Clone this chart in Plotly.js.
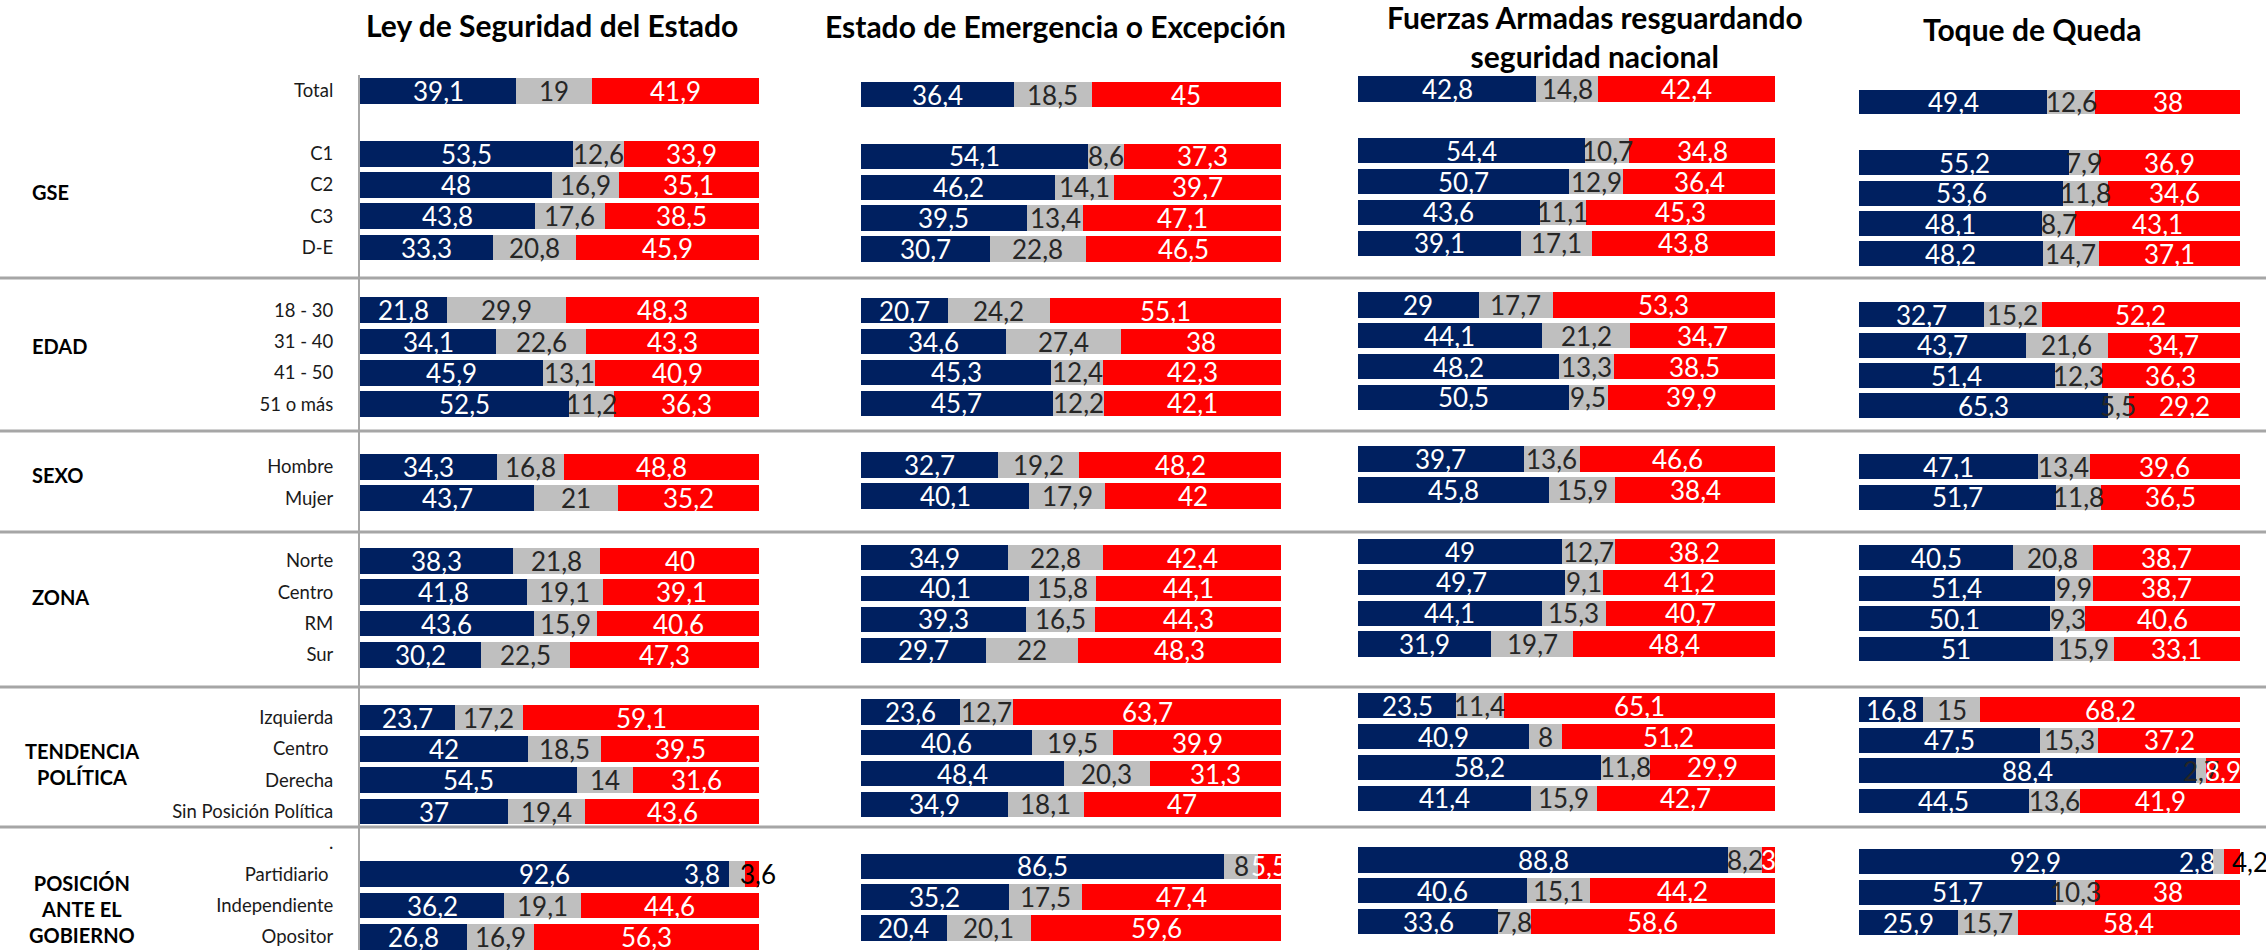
<!DOCTYPE html>
<html>
<head>
<meta charset="utf-8">
<script src="https://cdn.plot.ly/plotly-3.0.1.min.js"></script>
<style>
html,body{margin:0;padding:0;background:#ffffff;}
#chart{width:2266px;height:950px;}
</style>
</head>
<body>
<div id="chart"></div>
<script>
// ---------------- DATA ----------------
const rowLabels = ['Total','', 'C1','C2','C3','D-E','', '18 - 30','31 - 40','41 - 50','51 o más','',
  'Hombre','Mujer','', 'Norte','Centro','RM','Sur','', 'Izquierda','Centro\u00a0','Derecha','Sin Posición Política','.',
  'Partidiario\u00a0','Independiente','Opositor'];

const panelTitles = ['Ley de Seguridad del Estado','Estado de Emergencia o Excepción',
  'Fuerzas Armadas resguardando<br>seguridad nacional','Toque de Queda'];

const groupLabels = ['GSE','EDAD','SEXO','ZONA','TENDENCIA<br>POLÍTICA','POSICIÓN<br>ANTE EL<br>GOBIERNO'];

const seriesNames = ['De acuerdo','Ni de acuerdo ni en desacuerdo','En desacuerdo'];

// Ley de Seguridad del Estado
const leyAcuerdo    = [39.1,null,53.5,48,43.8,33.3,null,21.8,34.1,45.9,52.5,null,34.3,43.7,null,38.3,41.8,43.6,30.2,null,23.7,42,54.5,37,null,92.6,36.2,26.8];
const leyNeutral    = [19,null,12.6,16.9,17.6,20.8,null,29.9,22.6,13.1,11.2,null,16.8,21,null,21.8,19.1,15.9,22.5,null,17.2,18.5,14,19.4,null,3.8,19.1,16.9];
const leyDesacuerdo = [41.9,null,33.9,35.1,38.5,45.9,null,48.3,43.3,40.9,36.3,null,48.8,35.2,null,40,39.1,40.6,47.3,null,59.1,39.5,31.6,43.6,null,3.6,44.6,56.3];

// Estado de Emergencia o Excepción
const emergAcuerdo    = [36.4,null,54.1,46.2,39.5,30.7,null,20.7,34.6,45.3,45.7,null,32.7,40.1,null,34.9,40.1,39.3,29.7,null,23.6,40.6,48.4,34.9,null,86.5,35.2,20.4];
const emergNeutral    = [18.5,null,8.6,14.1,13.4,22.8,null,24.2,27.4,12.4,12.2,null,19.2,17.9,null,22.8,15.8,16.5,22,null,12.7,19.5,20.3,18.1,null,8,17.5,20.1];
const emergDesacuerdo = [45,null,37.3,39.7,47.1,46.5,null,55.1,38,42.3,42.1,null,48.2,42,null,42.4,44.1,44.3,48.3,null,63.7,39.9,31.3,47,null,5.5,47.4,59.6];

// Fuerzas Armadas resguardando seguridad nacional
const ffaaAcuerdo    = [42.8,null,54.4,50.7,43.6,39.1,null,29,44.1,48.2,50.5,null,39.7,45.8,null,49,49.7,44.1,31.9,null,23.5,40.9,58.2,41.4,null,88.8,40.6,33.6];
const ffaaNeutral    = [14.8,null,10.7,12.9,11.1,17.1,null,17.7,21.2,13.3,9.5,null,13.6,15.9,null,12.7,9.1,15.3,19.7,null,11.4,8,11.8,15.9,null,8.2,15.1,7.8];
const ffaaDesacuerdo = [42.4,null,34.8,36.4,45.3,43.8,null,53.3,34.7,38.5,39.9,null,46.6,38.4,null,38.2,41.2,40.7,48.4,null,65.1,51.2,29.9,42.7,null,3,44.2,58.6];

// Toque de Queda
const toqueAcuerdo    = [49.4,null,55.2,53.6,48.1,48.2,null,32.7,43.7,51.4,65.3,null,47.1,51.7,null,40.5,51.4,50.1,51,null,16.8,47.5,88.4,44.5,null,92.9,51.7,25.9];
const toqueNeutral    = [12.6,null,7.9,11.8,8.7,14.7,null,15.2,21.6,12.3,5.5,null,13.4,11.8,null,20.8,9.9,9.3,15.9,null,15,15.3,2.7,13.6,null,2.8,10.3,15.7];
const toqueDesacuerdo = [38,null,36.9,34.6,43.1,37.1,null,52.2,34.7,36.3,29.2,null,39.6,36.5,null,38.7,38.7,40.6,33.1,null,68.2,37.2,8.9,41.9,null,4.2,38,58.4];

// ---------------- LAYOUT / STYLE ----------------
const W = 2266, H = 950;
const FONT = 'Lato, "Open Sans", sans-serif';
const colors = ['#002060', '#BFBFBF', '#FF0000'];
const labelColors = ['#FFFFFF', '#262626', '#FFFFFF'];

const panelData = [
  [leyAcuerdo, leyNeutral, leyDesacuerdo],
  [emergAcuerdo, emergNeutral, emergDesacuerdo],
  [ffaaAcuerdo, ffaaNeutral, ffaaDesacuerdo],
  [toqueAcuerdo, toqueNeutral, toqueDesacuerdo]
];

// pixel geometry of each panel (left, right, first row centre, row pitch)
const geom = [
  {x0: 360,  x1: 759,  s0: 91,   p: 31.33},
  {x0: 861,  x1: 1281, s0: 94.7, p: 30.86},
  {x0: 1358, x1: 1775, s0: 89,   p: 30.84},
  {x0: 1859, x1: 2240, s0: 102,  p: 30.39}
];
const titlePos = [{x: 552, y: 25}, {x: 1055, y: 26}, {x: 1595, y: 36}, {x: 2032, y: 29}];
const groupPos = [
  {x: 30, y: 192, a: 'left'}, {x: 30, y: 346, a: 'left'}, {x: 30, y: 475, a: 'left'},
  {x: 30, y: 597, a: 'left'}, {x: 82, y: 764, a: 'center'}, {x: 82, y: 909, a: 'center'}
];
const sepY = [278, 431, 532, 687, 827];

// label quirks copied from the original (panel-series-row)
const labelOverrides = {
  '0-1-25': {xshift: -35, color: '#FFFFFF'},
  '0-2-25': {xshift: 6, color: '#000000'},
  '3-1-25': {xshift: -21, color: '#FFFFFF'},
  '3-2-25': {xshift: 18, color: '#000000'}
};

const px = x => x / W;
const py = y => 1 - y / H;
const fmt = v => String(v).replace('.', ',');
const slots = rowLabels.map((_, i) => i);

const traces = [];
const annotations = [];
const layout = {
  width: W, height: H,
  margin: {l: 0, r: 0, t: 0, b: 0},
  paper_bgcolor: '#ffffff', plot_bgcolor: 'rgba(0,0,0,0)',
  barmode: 'stack', bargap: 0,
  showlegend: false,
  font: {family: FONT, color: '#000'},
  shapes: [],
  annotations: annotations
};

panelData.forEach((series, p) => {
  const g = geom[p];
  const xa = p === 0 ? 'x' : 'x' + (p + 1);
  const ya = p === 0 ? 'y' : 'y' + (p + 1);
  const xKey = p === 0 ? 'xaxis' : 'xaxis' + (p + 1);
  const yKey = p === 0 ? 'yaxis' : 'yaxis' + (p + 1);
  const top = g.s0 - g.p / 2;
  const rb = (H - g.s0) / g.p;

  layout[xKey] = {
    domain: [px(g.x0), px(g.x1)], range: [0, 100], anchor: ya,
    showgrid: false, zeroline: false, showticklabels: false, showline: false, ticks: '', fixedrange: true
  };
  layout[yKey] = {
    domain: [0, py(top)], range: [rb, -0.5], anchor: xa,
    showgrid: false, zeroline: false, ticks: '', fixedrange: true,
    showticklabels: p === 0,
    tickmode: 'array', tickvals: slots, ticktext: rowLabels,
    tickfont: {family: FONT, size: 18.5, color: '#1a1a1a'},
    ticklabelstandoff: 21,
    showline: p === 0, linecolor: '#a6a6a6', linewidth: 2
  };

  const cum = rowLabels.map(() => 0);
  series.forEach((vals, s) => {
    traces.push({
      type: 'bar', orientation: 'h', name: seriesNames[s],
      x: vals, y: slots, xaxis: xa, yaxis: ya,
      width: 0.82,
      marker: {color: colors[s], line: {width: 0}},
      hoverinfo: 'x+name'
    });
    vals.forEach((v, i) => {
      if (v === null) return;
      const ov = labelOverrides[p + '-' + s + '-' + i] || {};
      annotations.push({
        xref: xa, yref: ya, x: cum[i] + v / 2, y: i,
        text: fmt(v), showarrow: false, xanchor: 'center', yanchor: 'middle',
        xshift: ov.xshift || 0,
        font: {family: FONT, size: 26, color: ov.color || labelColors[s]}
      });
      cum[i] += v;
    });
  });

  annotations.push({
    xref: 'paper', yref: 'paper', x: px(titlePos[p].x), y: py(titlePos[p].y),
    text: '<b>' + panelTitles[p] + '</b>', showarrow: false,
    xanchor: 'center', yanchor: 'middle', align: 'center',
    font: {family: FONT, size: 30, color: '#000'}
  });
});

groupLabels.forEach((t, k) => {
  const gp = groupPos[k];
  annotations.push({
    xref: 'paper', yref: 'paper', x: px(gp.x), y: py(gp.y),
    text: '<b>' + t + '</b>', showarrow: false,
    xanchor: gp.a, yanchor: 'middle', align: 'center',
    font: {family: FONT, size: 20, color: '#000'}
  });
});

sepY.forEach(y => {
  layout.shapes.push({
    type: 'line', xref: 'paper', yref: 'paper', x0: 0, x1: 1, y0: py(y), y1: py(y),
    line: {color: '#a6a6a6', width: 3}
  });
});

Plotly.newPlot('chart', traces, layout, {displayModeBar: false, staticPlot: true});
</script>
</body>
</html>
